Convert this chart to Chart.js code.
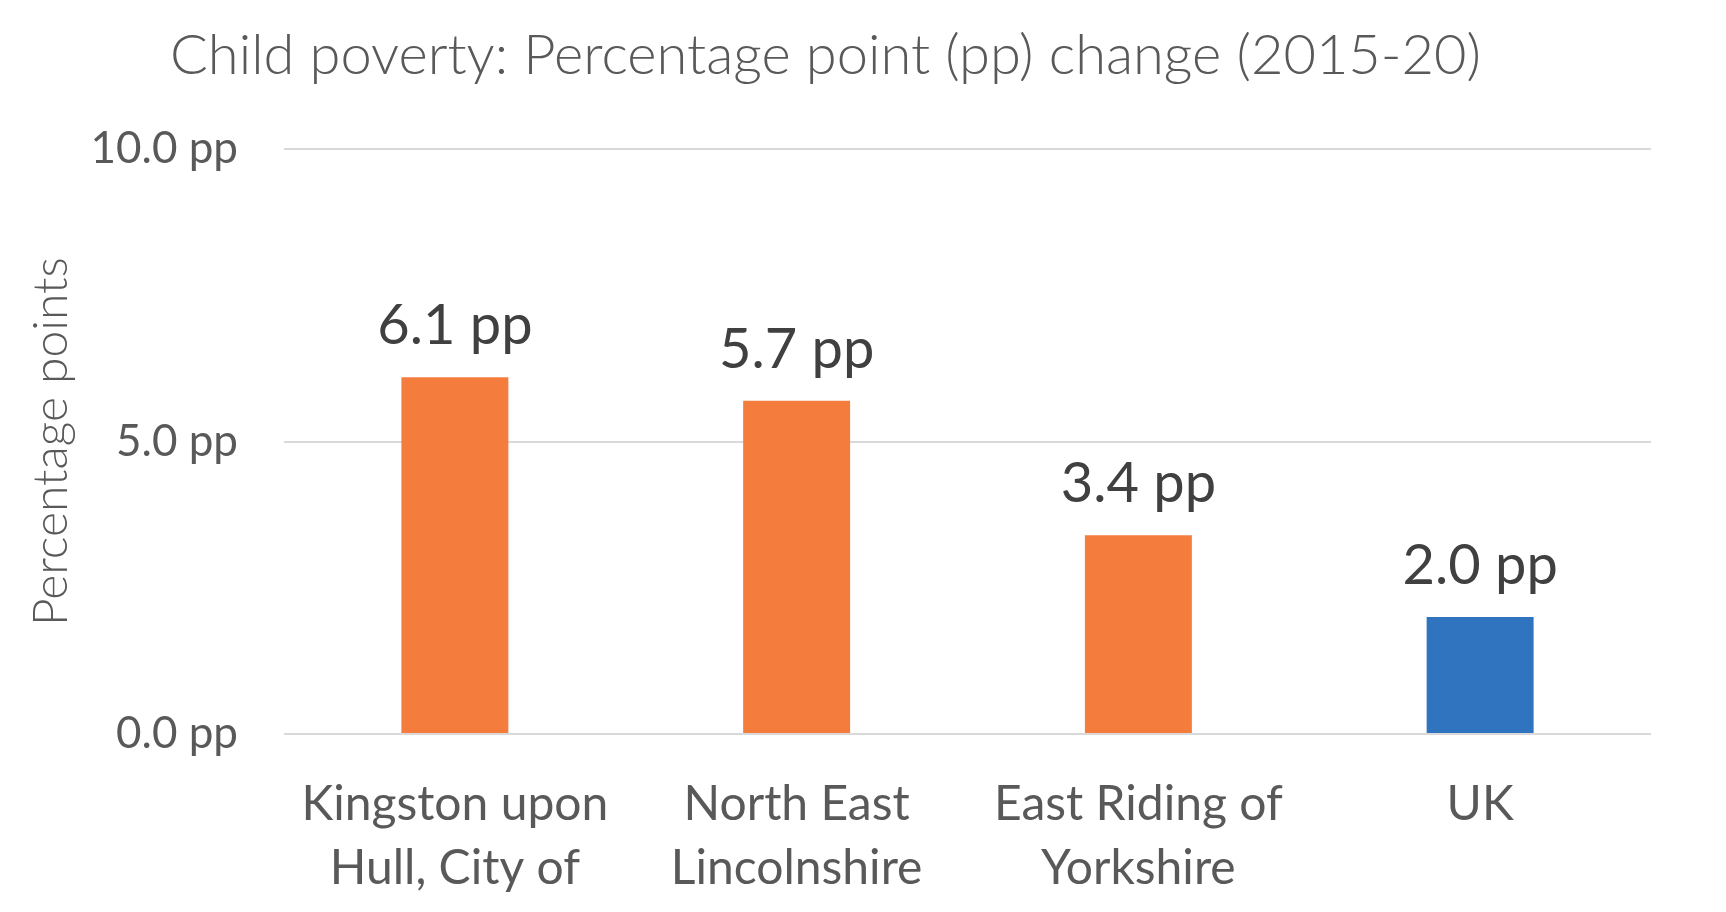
<!DOCTYPE html>
<html>
<head>
<meta charset="utf-8">
<script src="https://cdn.jsdelivr.net/npm/chart.js@4/dist/chart.umd.min.js"></script>
<style>
    body { margin: 0; background: #fff; }
    .box { width: 1726px; height: 912px; }
</style>
</head>
<body>
<div class="box"><canvas id="myChart"></canvas></div>
<script>
// data

const areas = [['Kingston upon', 'Hull, City of'], ['North East', 'Lincolnshire'], ['East Riding of', 'Yorkshire'], 'UK']
const ppChange = [6.1, 5.7, 3.4, 2.0]
const barColors = ['#F47D3E', '#F47D3E', '#F47D3E', '#3073BE']
const yTicks = [0, 5, 10]

const fontName = 'Lato, "Open Sans", sans-serif'

// value labels above each bar

const barLabels = {
    id: 'barLabels',
    afterDatasetsDraw(chart) {
        const ctx = chart.ctx
        const meta = chart.getDatasetMeta(0)
        ctx.save()
        ctx.font = '56px ' + fontName
        ctx.fillStyle = '#404040'
        ctx.textAlign = 'center'
        ctx.textBaseline = 'middle'
        meta.data.forEach((bar, i) => {
            ctx.fillText(ppChange[i].toFixed(1) + ' pp', bar.x, bar.y - 51)
        })
        ctx.restore()
    }
}

const ctx = document.getElementById('myChart').getContext('2d');
const myChart = new Chart(ctx, {
    type: 'bar',
    data: {
        labels: areas,
        datasets: [{
            data: ppChange,
            backgroundColor: barColors,
            borderWidth: 0,
            categoryPercentage: 1,
            barPercentage: 0.313
        }]
    },
    options: {
        responsive: true,
        maintainAspectRatio: false,
        animation: false,
        layout: {
            padding: { left: 0, right: 75, top: 0, bottom: 14 }
        },
        plugins: {
            legend: { display: false },
            tooltip: { enabled: false },
            title: {
                display: true,
                text: 'Child poverty: Percentage point (pp) change (2015-20)',
                color: '#595959',
                font: { family: fontName, size: 56, weight: 300, lineHeight: 1.2 },
                padding: { top: 22, bottom: 60 }
            }
        },
        scales: {
            x: {
                grid: { display: false, drawTicks: false },
                border: { display: false },
                ticks: {
                    color: '#595959',
                    padding: 39,
                    maxRotation: 0,
                    autoSkip: false,
                    font: { family: fontName, size: 48, lineHeight: 1.32 }
                },
                afterFit(scale) { scale.height = 912 - 734 - 14 }
            },
            y: {
                min: 0,
                max: 10,
                afterBuildTicks(scale) { scale.ticks = yTicks.map(v => ({ value: v })) },
                grid: { color: '#D9D9D9', lineWidth: 2, drawTicks: false },
                border: { display: false },
                ticks: {
                    color: '#595959',
                    padding: 46,
                    font: { family: fontName, size: 44 },
                    callback: (v) => v.toFixed(1) + ' pp'
                },
                title: {
                    display: true,
                    text: 'Percentage points',
                    color: '#595959',
                    font: { family: fontName, size: 48, weight: 300, lineHeight: 1.2 },
                    padding: { top: 23, bottom: 0 }
                },
                afterFit(scale) { scale.width = 284 }
            }
        }
    },
    plugins: [barLabels]
});
</script>
</body>
</html>
